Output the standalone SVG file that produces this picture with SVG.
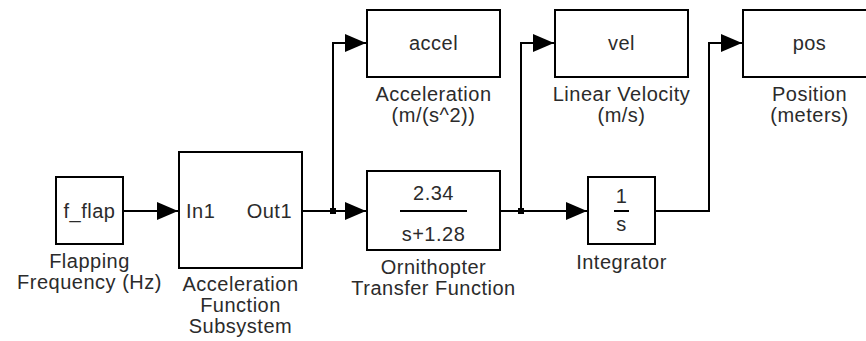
<svg xmlns="http://www.w3.org/2000/svg" width="866" height="341" viewBox="0 0 866 341">
  <style>
    .blk { fill: #ffffff; stroke: #000000; stroke-width: 2; }
    .wire { fill: none; stroke: #000000; stroke-width: 2; }
    .frac { stroke: #000000; stroke-width: 2; }
    text { font-family: "Liberation Sans", Arial, Helvetica, sans-serif; font-size: 20px; fill: #2b2b2b; letter-spacing: 0.5px; }
    .c { text-anchor: middle; }
    .dot { fill: #000000; }
  </style>
  <defs>
    <marker id="arr" markerUnits="userSpaceOnUse" markerWidth="22" markerHeight="18" refX="21" refY="9" orient="auto">
      <path d="M0,0 L21,9 L0,18 Z" fill="#000000"/>
    </marker>
  </defs>
  <rect width="866" height="341" fill="#ffffff"/>

  <g id="connectors">
    <path class="wire" d="M123,211 H178" marker-end="url(#arr)"/>
    <path class="wire" d="M302,211 H366" marker-end="url(#arr)"/>
    <path class="wire" d="M333,211 V43 H366" marker-end="url(#arr)"/>
    <path class="wire" d="M500,211 H587" marker-end="url(#arr)"/>
    <path class="wire" d="M521,211 V43 H554" marker-end="url(#arr)"/>
    <path class="wire" d="M655,211 H709 V43 H742" marker-end="url(#arr)"/>
    <rect class="dot" x="330" y="208" width="6" height="6"/>
    <rect class="dot" x="518" y="208" width="6" height="6"/>
  </g>

  <g id="f_flap">
    <rect class="blk" x="56" y="177" width="67" height="67"/>
    <text class="c" x="89.5" y="218">f_flap</text>
    <text class="c" x="89.5" y="268">Flapping</text>
    <text class="c" x="89.5" y="289">Frequency (Hz)</text>
  </g>

  <g id="subsystem">
    <rect class="blk" x="179" y="152" width="123" height="116"/>
    <text x="186" y="218">In1</text>
    <text x="292" y="218" text-anchor="end">Out1</text>
    <text class="c" x="240.5" y="291">Acceleration</text>
    <text class="c" x="240.5" y="312">Function</text>
    <text class="c" x="240.5" y="333">Subsystem</text>
  </g>

  <g id="accel">
    <rect class="blk" x="367" y="10" width="133" height="67"/>
    <text class="c" x="433.5" y="50">accel</text>
    <text class="c" x="433.5" y="101">Acceleration</text>
    <text class="c" x="433.5" y="122">(m/(s^2))</text>
  </g>

  <g id="transfer_function">
    <rect class="blk" x="367" y="171" width="133" height="79"/>
    <text class="c" x="433.5" y="200">2.34</text>
    <line class="frac" x1="400" y1="211" x2="467" y2="211"/>
    <text class="c" x="433.5" y="241">s+1.28</text>
    <text class="c" x="433.5" y="274">Ornithopter</text>
    <text class="c" x="433.5" y="295">Transfer Function</text>
  </g>

  <g id="vel">
    <rect class="blk" x="555" y="10" width="133" height="67"/>
    <text class="c" x="621.5" y="50">vel</text>
    <text class="c" x="621.5" y="101">Linear Velocity</text>
    <text class="c" x="621.5" y="122">(m/s)</text>
  </g>

  <g id="integrator">
    <rect class="blk" x="588" y="177" width="67" height="67"/>
    <text class="c" x="621.5" y="203">1</text>
    <line class="frac" x1="614" y1="211" x2="629" y2="211"/>
    <text class="c" x="621.5" y="231">s</text>
    <text class="c" x="621.5" y="269">Integrator</text>
  </g>

  <g id="pos">
    <rect class="blk" x="743" y="10" width="133" height="67"/>
    <text class="c" x="809.5" y="50">pos</text>
    <text class="c" x="809.5" y="101">Position</text>
    <text class="c" x="809.5" y="122">(meters)</text>
  </g>
</svg>
